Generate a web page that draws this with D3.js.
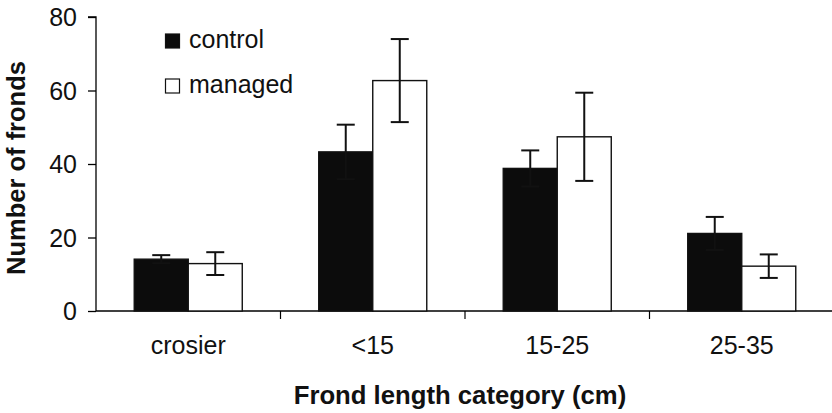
<!DOCTYPE html>
<html><head><meta charset="utf-8">
<script src="https://cdn.jsdelivr.net/npm/d3@7"></script>
<style>body{margin:0;background:#fff}svg{display:block}text{font-family:"Liberation Sans",Arial,sans-serif}</style>
</head><body><svg id="c" width="832" height="413"></svg>
<script>
const categories = ["crosier", "<15", "15-25", "25-35"];
const seriesNames = ["control", "managed"];
const controlMean = [14.1, 43.3, 38.8, 21.1];
const controlErr = [1.1, 7.4, 4.9, 4.5];
const managedMean = [12.9, 62.7, 47.4, 12.2];
const managedErr = [3.1, 11.3, 12.0, 3.2];
const yTicks = [0, 20, 40, 60, 80];

const svg = d3.select("#c");
const x0 = 96, x1 = 834, yTop = 17, yBot = 311;
const x = d3.scaleBand().domain(categories).range([x0, x1]);
const xs = d3.scaleBand().domain(seriesNames).range([0, x.bandwidth()]).paddingInner(0).paddingOuter(0.708);
const y = d3.scaleLinear().domain([0, 80]).range([yBot, yTop]);

const data = [];
categories.forEach((c, i) => {
  data.push({c, s: "control", v: controlMean[i], e: controlErr[i]});
  data.push({c, s: "managed", v: managedMean[i], e: managedErr[i]});
});
const fill = {control: "#0c0c0c", managed: "#fff"};

// y axis
const ya = svg.append("g").attr("transform", `translate(${x0},0)`)
  .call(d3.axisLeft(y).tickValues(yTicks).tickSize(8).tickPadding(11));
ya.select(".domain").attr("stroke", "#000").attr("stroke-width", 1.3).attr("d", `M-8,${yTop}H0V${yBot}`);
ya.selectAll(".tick line").attr("stroke", "#000").attr("stroke-width", 1.3);
ya.selectAll(".tick text").attr("font-size", 25).attr("fill", "#111").attr("dy", "0.34em");

// x axis
const xa = svg.append("g").attr("transform", `translate(0,${yBot})`)
  .call(d3.axisBottom(x).tickSize(0).tickPadding(0));
xa.select(".domain").attr("stroke", "#000").attr("stroke-width", 1.3).attr("d", `M${x0},0H${x1}`);
xa.selectAll(".tick text").attr("font-size", 25).attr("fill", "#111").attr("dy", null).attr("y", 43);
xa.selectAll(".bt").data(categories.slice(1)).enter().append("line")
  .attr("x1", d => x(d)).attr("x2", d => x(d)).attr("y1", 0).attr("y2", 8)
  .attr("stroke", "#000").attr("stroke-width", 1.2);

// bars
svg.append("g").selectAll("rect").data(data).enter().append("rect")
  .attr("x", d => x(d.c) + xs(d.s)).attr("width", xs.bandwidth())
  .attr("y", d => y(d.v)).attr("height", d => y(0) - y(d.v))
  .attr("fill", d => fill[d.s]).attr("stroke", "#111").attr("stroke-width", 1.4);

// error bars
const eg = svg.append("g").attr("stroke", "#111").attr("stroke-width", 2);
data.forEach(d => {
  const cx = x(d.c) + xs(d.s) + xs.bandwidth() / 2;
  const top = y(d.v + d.e), bot = y(d.v - d.e);
  eg.append("line").attr("x1", cx).attr("x2", cx).attr("y1", top).attr("y2", bot);
  eg.append("line").attr("x1", cx - 9).attr("x2", cx + 9).attr("y1", top).attr("y2", top);
  eg.append("line").attr("x1", cx - 9).attr("x2", cx + 9).attr("y1", bot).attr("y2", bot);
});

// legend
const lg = svg.append("g");
seriesNames.forEach((s, i) => {
  const yy = 34 + i * 45;
  lg.append("rect").attr("x", 165.5).attr("y", yy).attr("width", 14).attr("height", 14)
    .attr("fill", fill[s]).attr("stroke", "#111").attr("stroke-width", 1.2);
  lg.append("text").attr("x", 189).attr("y", yy + 14).attr("font-size", 25).attr("fill", "#111").text(s);
});

// axis titles
svg.append("text").attr("transform", `translate(25,168) rotate(-90)`).attr("text-anchor", "middle")
  .attr("font-size", 25.5).attr("font-weight", "bold").attr("fill", "#111").text("Number of fronds");
svg.append("text").attr("x", 460).attr("y", 404).attr("text-anchor", "middle")
  .attr("font-size", 25.7).attr("font-weight", "bold").attr("fill", "#111").text("Frond length category (cm)");
</script></body></html>
